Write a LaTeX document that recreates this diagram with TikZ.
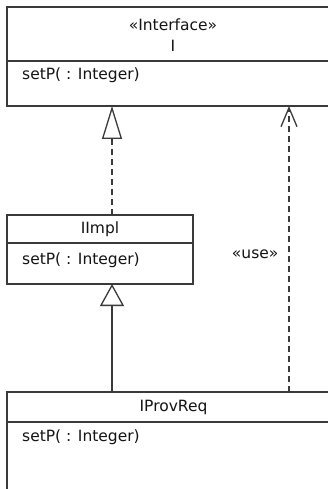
\documentclass[tikz,border=0pt]{standalone}
\usepackage{fontspec}
\setmainfont{DejaVu Sans}
\usepackage{xcolor}
\usetikzlibrary{arrows.meta,positioning}
\definecolor{Frame}{HTML}{3A3A3A}
\definecolor{Ink}{HTML}{141414}
\newcommand{\umlfont}{\fontsize{15.5}{18}\selectfont}
\tikzset{
  part/.style={draw=Frame,line width=1.4pt,fill=white,inner sep=0pt,outer sep=0pt,anchor=north west},
  nametext/.style={font=\umlfont,text=Ink,inner sep=0pt},
  optext/.style={font=\umlfont,text=Ink,inner sep=0pt,anchor=west},
  realize/.style={-{Triangle[open,length=33pt,width=20pt]},draw=Frame,line width=1.3pt,dash pattern=on 6pt off 4pt},
  inherit/.style={-{Triangle[open,length=22pt,width=24pt]},draw=Frame,line width=1.3pt},
  usedep/.style={-{Straight Barb[length=19pt,width=16pt]},draw=Frame,line width=1.3pt,dash pattern=on 6pt off 4pt}
}

\begin{document}
\begin{tikzpicture}[x=1pt,y=-1pt]
  \path[use as bounding box,clip] (0,0) rectangle (328,489);
  \fill[white] (0,0) rectangle (328,489);
  % interface I
  \node[part,minimum width=333pt,minimum height=54pt] (ifaceName) at (7,7) {};
  \node[part,minimum width=333pt,minimum height=45pt] (ifaceOps) at (ifaceName.south west) {};
  \node[nametext] (ifaceStereo) at (173,25) {«Interface»};
  \node[nametext] (ifaceTitle) at (173,46) {I};
  \node[optext] (ifaceOp) at (22,75) {setP( : Integer)};
  % class IImpl
  \node[part,minimum width=186pt,minimum height=28pt] (implName) at (7,215) {};
  \node[part,minimum width=186pt,minimum height=41pt] (implOps) at (implName.south west) {};
  \node[nametext] (implTitle) at (implName.center) {IImpl};
  \node[optext] (implOp) at (22,260) {setP( : Integer)};
  % class IProvReq
  \node[part,minimum width=333pt,minimum height=30pt] (provName) at (7,392) {};
  \node[part,minimum width=333pt,minimum height=90pt] (provOps) at (provName.south west) {};
  \node[nametext] (provTitle) at (provName.center) {IProvReq};
  \node[optext] (provOp) at (22,437) {setP( : Integer)};
  % connectors
  \coordinate (implx) at (112,0);
  \coordinate (usex) at (289,0);
  \draw[realize] (implName.north -| implx) -- (ifaceOps.south -| implx);
  \draw[inherit] (provName.north -| implx) -- (implOps.south -| implx);
  \draw[usedep] (provName.north -| usex) -- node[nametext,pos=0.48,left=10pt] (useLabel) {«use»} (ifaceOps.south -| usex);
\end{tikzpicture}
\end{document}
